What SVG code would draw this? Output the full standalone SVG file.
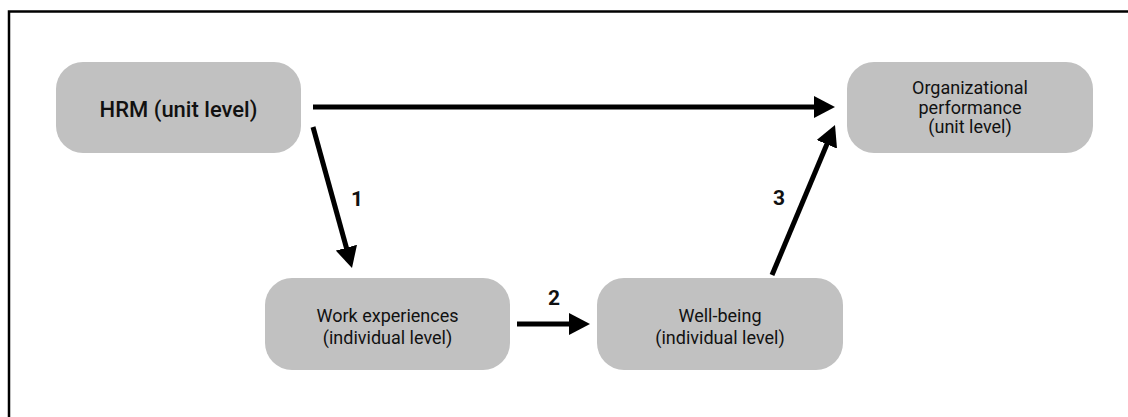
<svg xmlns="http://www.w3.org/2000/svg" width="1128" height="417" viewBox="0 0 1128 417">
  <style>
    .node { fill: #c1c1c1; }
    .t { font-family: Roboto, "Liberation Sans", Arial, sans-serif; font-weight: 400; fill: #111; text-anchor: middle; }
    .big { font-size: 22px; font-weight: 500; }
    .mid { font-size: 18px; }
    .lbl { font-family: Roboto, "Liberation Sans", Arial, sans-serif; font-size: 21px; font-weight: bold; fill: #111; text-anchor: middle; }
    .conn { stroke: #000; stroke-width: 5; fill: none; marker-end: url(#ah); }
  </style>
  <defs>
    <marker id="ah" markerUnits="userSpaceOnUse" markerWidth="22" markerHeight="22" refX="6" refY="11" orient="auto" viewBox="0 0 22 22">
      <path d="M0,0 L21,11 L0,22 z" fill="#000"/>
    </marker>
  </defs>
  <rect width="1128" height="417" fill="#fff"/>
  <rect id="frame" x="9" y="11.5" width="1130" height="420" fill="none" stroke="#000" stroke-width="2.5"/>

  <g id="hrm">
    <rect class="node" x="56" y="62" width="245" height="91" rx="27"/>
    <text class="t big" x="178.5" y="117">HRM (unit level)</text>
  </g>
  <g id="orgperf">
    <rect class="node" x="847" y="62" width="246" height="91" rx="27"/>
    <text class="t mid" x="970" y="94">Organizational</text>
    <text class="t mid" x="970" y="114">performance</text>
    <text class="t mid" x="970" y="133">(unit level)</text>
  </g>
  <g id="work">
    <rect class="node" x="265" y="278" width="245" height="92" rx="27"/>
    <text class="t mid" x="387.5" y="322">Work experiences</text>
    <text class="t mid" x="387.5" y="344">(individual level)</text>
  </g>
  <g id="wellbeing">
    <rect class="node" x="597" y="278" width="246" height="92" rx="27"/>
    <text class="t mid" x="720" y="322">Well-being</text>
    <text class="t mid" x="720" y="344">(individual level)</text>
  </g>

  <g id="connectors">
    <line class="conn" x1="313" y1="107" x2="820" y2="107"/>
    <line class="conn" x1="313" y1="127" x2="348" y2="253.5"/>
    <line class="conn" x1="517" y1="324" x2="575" y2="324"/>
    <line class="conn" x1="772" y1="275" x2="829.2" y2="138.8"/>
    <text class="lbl" x="357" y="206">1</text>
    <text class="lbl" x="554" y="305">2</text>
    <text class="lbl" x="779" y="205">3</text>
  </g>
</svg>
